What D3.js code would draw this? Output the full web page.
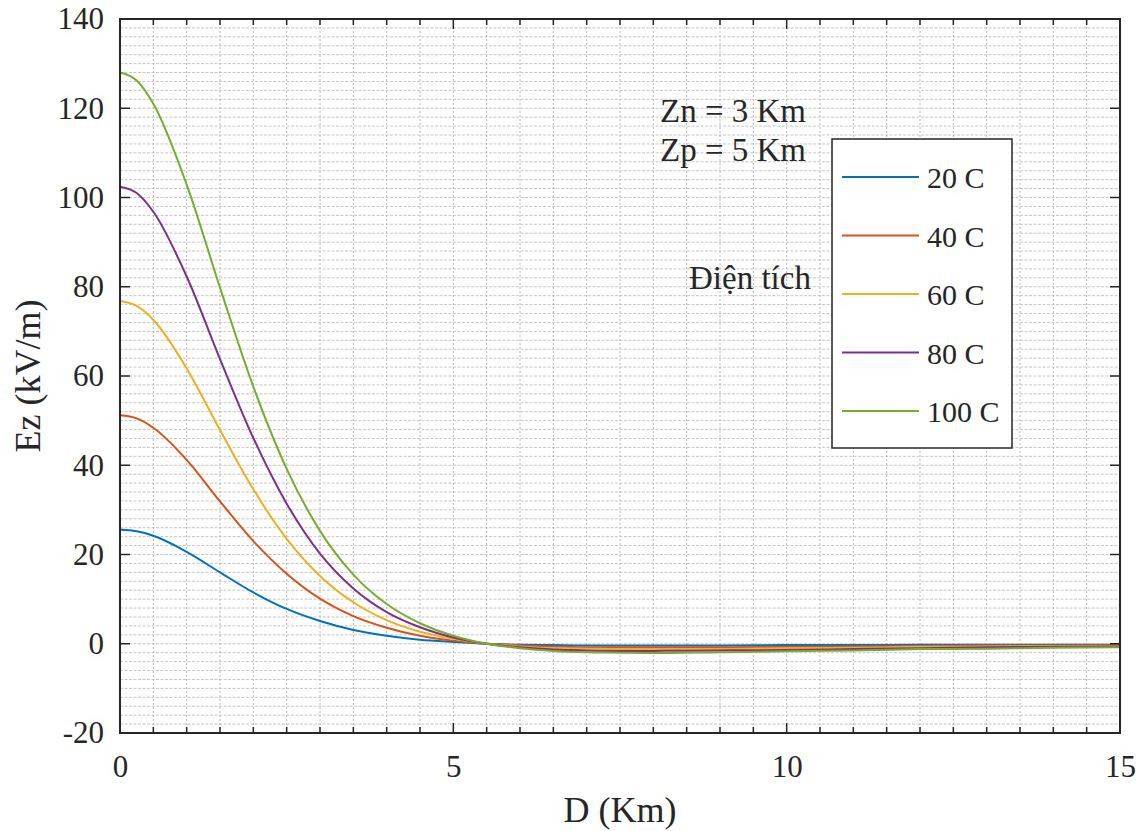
<!DOCTYPE html>
<html>
<head>
<meta charset="utf-8">
<script src="https://cdn.jsdelivr.net/npm/d3@7"></script>
<style>
  body { margin: 0; background: #fff; }
  svg text { font-family: "Liberation Serif", "Times New Roman", serif; fill: #262626; }
</style>
</head>
<body>
<svg id="chart" width="1147" height="831"></svg>
<script>
// distance (km)
const distances = [0, 0.25, 0.5, 1, 1.5, 2, 2.5, 3, 3.5, 4, 4.5, 5, 5.5, 6, 6.5, 7, 7.5, 8, 9, 10, 11, 12, 13, 14, 15];

// Ez (kV/m) for each charge
const ez20 = [25.6, 25.2, 24.2, 20.6, 16.0, 11.5, 7.8, 5.1, 3.1, 1.8, 0.9, 0.4, 0.0, -0.2, -0.3, -0.4, -0.4, -0.4, -0.4, -0.3, -0.3, -0.2, -0.2, -0.2, -0.2];
const ez40 = [51.2, 50.5, 48.4, 41.2, 31.9, 23.0, 15.7, 10.1, 6.2, 3.6, 1.8, 0.7, 0.0, -0.4, -0.6, -0.8, -0.8, -0.8, -0.8, -0.7, -0.6, -0.5, -0.4, -0.4, -0.3];
const ez60 = [76.8, 75.7, 72.6, 61.7, 47.9, 34.6, 23.5, 15.2, 9.3, 5.3, 2.7, 1.1, 0.0, -0.6, -1.0, -1.1, -1.2, -1.2, -1.2, -1.0, -0.9, -0.7, -0.6, -0.5, -0.5];
const ez80 = [102.4, 101.0, 96.8, 82.3, 63.8, 46.1, 31.4, 20.2, 12.4, 7.1, 3.7, 1.4, 0.0, -0.8, -1.3, -1.5, -1.6, -1.6, -1.5, -1.4, -1.2, -1.0, -0.8, -0.7, -0.6];
const ez100 = [128.0, 126.2, 121.0, 102.9, 79.8, 57.6, 39.2, 25.3, 15.5, 8.9, 4.6, 1.8, 0.0, -1.0, -1.6, -1.9, -2.0, -2.1, -1.9, -1.7, -1.5, -1.2, -1.1, -0.9, -0.8];

const seriesNames = ['20 C', '40 C', '60 C', '80 C', '100 C'];
const seriesValues = [ez20, ez40, ez60, ez80, ez100];
const seriesColors = ['#0072BD', '#D95319', '#EDB120', '#7E2F8E', '#77AC30'];

const xTicks = [0, 5, 10, 15];
const yTicks = [-20, 0, 20, 40, 60, 80, 100, 120, 140];

const svg = d3.select('#chart');
const plot = { left: 120, right: 1120, top: 19, bottom: 733 };

const x = d3.scaleLinear().domain([0, 15]).range([plot.left, plot.right]);
const y = d3.scaleLinear().domain([-20, 140]).range([plot.bottom, plot.top]);

// grid (dotted, MATLAB-like minor grid)
const grid = svg.append('g');
grid.selectAll('line.hg')
  .data(d3.range(-20, 141, 2))
  .join('line')
  .attr('x1', plot.left).attr('x2', plot.right)
  .attr('y1', d => y(d)).attr('y2', d => y(d))
  .attr('stroke', '#c6c6c6')
  .attr('stroke-width', 1)
  .attr('stroke-dasharray', '3,1.5');
grid.selectAll('line.vg')
  .data(d3.range(0.5, 15, 0.5))
  .join('line')
  .attr('x1', d => x(d)).attr('x2', d => x(d))
  .attr('y1', plot.top).attr('y2', plot.bottom)
  .attr('stroke', '#b8b8b8')
  .attr('stroke-width', 1)
  .attr('stroke-dasharray', '2,2');

// curves
const line = d3.line()
  .x((d, i) => x(distances[i]))
  .y(d => y(d))
  .curve(d3.curveMonotoneX);

svg.append('g')
  .selectAll('path')
  .data(seriesValues)
  .join('path')
  .attr('d', d => line(d))
  .attr('fill', 'none')
  .attr('stroke', (d, i) => seriesColors[i])
  .attr('stroke-width', 2);

// axes with inward ticks
const axisColor = '#262626';
const minorX = d3.range(0, 15.01, 0.5);

const bottomAxis = svg.append('g').attr('transform', `translate(0,${plot.bottom})`)
  .call(d3.axisBottom(x).tickValues(xTicks).tickSize(0).tickPadding(22).tickFormat(d => String(d)));
bottomAxis.select('.domain').remove();
bottomAxis.selectAll('text').style('font-size', '31px').style('font-family', '"Liberation Serif", serif');

const leftAxis = svg.append('g').attr('transform', `translate(${plot.left},0)`)
  .call(d3.axisLeft(y).tickValues(yTicks).tickSize(0).tickPadding(16).tickFormat(d => String(d)));
leftAxis.select('.domain').remove();
leftAxis.selectAll('text').style('font-size', '31px').style('font-family', '"Liberation Serif", serif');

const ticks = svg.append('g').attr('stroke', axisColor).attr('stroke-width', 1.5);
ticks.selectAll('line.xb')
  .data(minorX)
  .join('line')
  .attr('x1', d => x(d)).attr('x2', d => x(d))
  .attr('y1', plot.bottom)
  .attr('y2', d => plot.bottom - (d % 5 === 0 ? 10 : 6));
ticks.selectAll('line.xt')
  .data(minorX)
  .join('line')
  .attr('x1', d => x(d)).attr('x2', d => x(d))
  .attr('y1', plot.top)
  .attr('y2', d => plot.top + (d % 5 === 0 ? 10 : 6));
ticks.selectAll('line.yl')
  .data(yTicks)
  .join('line')
  .attr('x1', plot.left).attr('x2', plot.left + 10)
  .attr('y1', d => y(d)).attr('y2', d => y(d));
ticks.selectAll('line.yr')
  .data(yTicks)
  .join('line')
  .attr('x1', plot.right).attr('x2', plot.right - 10)
  .attr('y1', d => y(d)).attr('y2', d => y(d));

svg.append('rect')
  .attr('x', plot.left).attr('y', plot.top)
  .attr('width', plot.right - plot.left)
  .attr('height', plot.bottom - plot.top)
  .attr('fill', 'none')
  .attr('stroke', axisColor)
  .attr('stroke-width', 2);

// axis labels
svg.append('text')
  .attr('x', (plot.left + plot.right) / 2)
  .attr('y', 822)
  .attr('text-anchor', 'middle')
  .style('font-size', '36px')
  .text('D (Km)');

svg.append('text')
  .attr('transform', `translate(40,${(plot.top + plot.bottom) / 2}) rotate(-90)`)
  .attr('text-anchor', 'middle')
  .style('font-size', '36px')
  .text('Ez (kV/m)');

// annotations
const notes = svg.append('g').style('font-size', '33px');
notes.append('text').attr('x', 660).attr('y', 122).text('Zn = 3 Km');
notes.append('text').attr('x', 660).attr('y', 161).text('Zp = 5 Km');
notes.append('text').attr('x', 689).attr('y', 289).text('Điện tích');

// legend
const legend = svg.append('g');
legend.append('rect')
  .attr('x', 832).attr('y', 139)
  .attr('width', 180).attr('height', 309)
  .attr('fill', '#fff')
  .attr('stroke', axisColor)
  .attr('stroke-width', 1.5);

const legendY = d3.scalePoint().domain(seriesNames).range([177, 411]);
const rows = legend.selectAll('g.row')
  .data(seriesNames)
  .join('g')
  .attr('transform', d => `translate(0,${legendY(d)})`);
rows.append('line')
  .attr('x1', 842).attr('x2', 919)
  .attr('stroke', (d, i) => seriesColors[i])
  .attr('stroke-width', 2);
rows.append('text')
  .attr('x', 927).attr('y', 11)
  .style('font-size', '30px')
  .text(d => d);
</script>
</body>
</html>
